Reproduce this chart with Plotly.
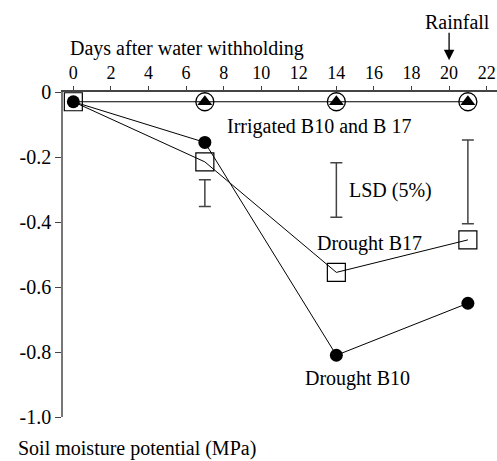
import plotly.graph_objects as go

days = [0, 7, 14, 21]
irrigated = [-0.03, -0.03, -0.03, -0.03]
drought_b10 = [-0.03, -0.155, -0.81, -0.65]
drought_b17 = [-0.03, -0.215, -0.555, -0.455]

lsd_x = [7, 14, 21]
lsd_top = [-0.27, -0.218, -0.148]
lsd_bottom = [-0.352, -0.385, -0.405]

x_ticks = list(range(0, 23, 2))
y_ticks = [0, -0.2, -0.4, -0.6, -0.8, -1.0]
y_ticktext = ["0", "-0.2", "-0.4", "-0.6", "-0.8", "-1.0"]

FONT = "Liberation Serif"
fig = go.Figure()

fig.add_trace(go.Scatter(x=days, y=drought_b10, mode="lines+markers",
                         line=dict(color="black", width=1),
                         marker=dict(symbol="circle", size=13, color="black"),
                         showlegend=False))
fig.add_trace(go.Scatter(x=days, y=drought_b17, mode="lines+markers",
                         line=dict(color="black", width=1),
                         marker=dict(symbol="square-open", size=18, color="black",
                                     line=dict(width=1.2, color="black")),
                         showlegend=False))
fig.add_trace(go.Scatter(x=days[1:], y=irrigated[1:], mode="markers",
                         marker=dict(symbol="circle", size=18, color="white",
                                     line=dict(width=1.3, color="black")),
                         showlegend=False))
fig.add_trace(go.Scatter(x=days, y=irrigated, mode="lines",
                         line=dict(color="black", width=1),
                         showlegend=False))
fig.add_trace(go.Scatter(x=days[1:], y=irrigated[1:], mode="markers",
                         marker=dict(symbol="triangle-up", size=13, color="black"),
                         showlegend=False))

fig.add_trace(go.Scatter(
    x=lsd_x, y=lsd_top, mode="markers", marker=dict(size=0.1, opacity=0),
    error_y=dict(type="data", symmetric=False,
                 array=[0] * len(lsd_x),
                 arrayminus=[t - b for t, b in zip(lsd_top, lsd_bottom)],
                 color="#444", thickness=1.5, width=6),
    showlegend=False))

fig.update_xaxes(side="top", range=[-0.55, 22.55], tickvals=x_ticks,
                 ticks="outside", ticklen=4, tickcolor="#444",
                 showline=True, linecolor="#444", linewidth=1.5,
                 showgrid=False, zeroline=False,
                 tickfont=dict(family=FONT, size=18, color="black"))
fig.update_yaxes(range=[-1.0, 0], tickvals=y_ticks, ticktext=y_ticktext,
                 ticks="outside", ticklen=6, tickcolor="#444",
                 showline=True, linecolor="#777", linewidth=1.5,
                 showgrid=False, zeroline=False,
                 tickfont=dict(family=FONT, size=20, color="black"))

ann_font = dict(family=FONT, size=20, color="black")
fig.add_annotation(x=13.09, y=-0.106, text="Irrigated B10 and B 17", showarrow=False, font=ann_font)
fig.add_annotation(x=14.57, y=-0.303, text="LSD (5%)", showarrow=False, font=ann_font, xanchor="left")
fig.add_annotation(x=15.74, y=-0.466, text="Drought B17", showarrow=False, font=ann_font)
fig.add_annotation(x=15.13, y=-0.88, text="Drought B10", showarrow=False, font=ann_font)
fig.add_annotation(x=-0.27, xref="x", y=1.135, yref="paper", yanchor="middle",
                   text="Days after water withholding",
                   showarrow=False, font=ann_font, xanchor="left")
fig.add_annotation(x=-0.106, xref="paper", y=-0.1354, yref="paper", yanchor="bottom",
                   borderpad=0, text="Soil moisture potential (MPa)",
                   showarrow=False, font=ann_font, xanchor="left")
fig.add_annotation(x=20.45, xref="x", y=1.215, yref="paper", yanchor="middle",
                   text="Rainfall", showarrow=False, font=ann_font)
fig.add_annotation(x=20, xref="x", y=1.098, yref="paper", ax=0, ay=-29, text="",
                   showarrow=True, arrowhead=2, arrowsize=1.6, arrowwidth=1.3, arrowcolor="black")

fig.update_layout(width=497, height=461, plot_bgcolor="white", paper_bgcolor="white",
                  margin=dict(l=63, r=0, t=92, b=44))

fig.write_html("out.html")
